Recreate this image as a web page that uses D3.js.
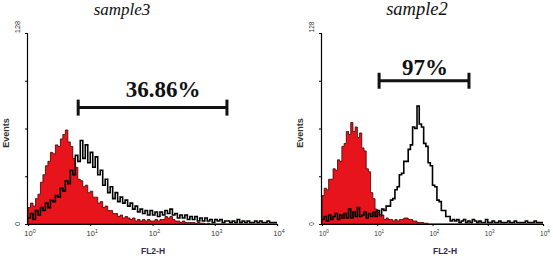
<!DOCTYPE html>
<html><head><meta charset="utf-8">
<script src="https://cdn.jsdelivr.net/npm/d3@7/dist/d3.min.js"></script>
<style>body{margin:0;background:#fff}svg{display:block}
.serif{font-family:'Liberation Serif','Times New Roman',serif}
.sans{font-family:'Liberation Sans',Arial,sans-serif}</style>
</head><body>
<svg id="c" width="553" height="261"></svg>
<script>
// ---- data ----
const titles = ["sample3", "sample2"];
const percents = ["36.86%", "97%"];
const xTicks = [1, 10, 100, 1000, 10000];
const yTicks = [0, 32, 64, 96, 128];
const yLabels = [0, 128];
const binsPerDecade = 25;
// gate markers [low, high] in FL2-H units, and their height in events
const gate3 = [6.4, 1570], gateY3 = 78;
const gate2 = [10.8, 457], gateY2 = 96;
// sample3: control (red filled) and sample (black line), 100 log bins over 4 decades
const ctrl3 = [11,14,12,17,20,28,33,39,42,48, 47,53,52,57,60,63,55,52,44,38,
  30,29,25,26,21,22,18,18,14,15, 11,12,9,9,7,7,5,6,4,5, 4,3,4,2,3,2,3,2,3,2,
  2,3,2,3,3,5,4,5,3,2, 2,1,2,1,1,1,1,0.5,1,0.5, 0.5,0,0.5,0,0,0,0,0,0,0,
  0,0,0,0,0,0,0,0,0,0, 0,0,0,0,0,0,0,0,0,0];
const samp3 = [4,7,3,9,6,11,9,14,11,16, 15,19,18,24,22,29,27,36,33,46,
  42,56,44,53,41,48,38,45,33,36, 26,30,21,25,17,21,15,18,14,16, 12,14,10,12,8,10,7,9,6,9,
  6,8,5,8,6,9,7,10,6,7, 4,6,4,6,3,5,3,5,2,4, 2,4,2,3,1,3,2,3,1,2,
  2,1,2,1,3,1,2,1,2,1, 1,2,1,2,1,1,2,1,1,1];
// sample2
const ctrl2 = [19,24,23,30,30,37,36,43,42,52, 54,62,60,68,62,65,58,61,51,49,
  37,35,21,17,10,8,5,6,3,4, 3,3,2,3,2,3,3,4,4,3, 3,2,2,1,1,1,0.5,0.5,0,0,
  0,0,0,0,0,0,0,0,0,0, 0,0,0,0,0,0,0,0,0,0, 0,0,0,0,0,0,0,0,0,0,
  0,0,0,0,0,0,0,0,0,0, 0,0,0,0,0,0,0,0,0,0];
const samp2 = [3,5,2,6,3,5,7,3,6,4, 7,4,10,4,8,5,11,5,6,8,
  4,7,5,8,5,9,6,10,9,12, 12,16,17,23,25,33,34,42,42,50, 53,65,64,79,67,65,54,52,41,39,
  26,25,16,15,9,9,5,5,2,3, 2,3,1,2,3,1,2,1,3,2, 1,2,1,1,3,1,1,2,1,1,
  2,1,1,1,2,1,1,2,1,1, 1,1,2,1,1,1,2,1,1,1];

const svg = d3.select("#c");
const panels = [
  {title: titles[0], pct: percents[0], ctrl: ctrl3, samp: samp3, gate: gate3, gateY: gateY3,
   xr: [28, 277], titleX: 122, titleSize: 17, pctX: 163, pctY: 97, pctSize: 23, labSize: 7.5, fl2X: 153},
  {title: titles[1], pct: percents[1], ctrl: ctrl2, samp: samp2, gate: gate2, gateY: gateY2,
   xr: [322, 543], titleX: 417, titleSize: 18.5, pctX: 425, pctY: 75, pctSize: 23, labSize: 6.5, fl2X: 445}
];

panels.forEach(p => {
  const x = d3.scaleLog().domain([1, 10000]).range(p.xr);
  const y = d3.scaleLinear().domain([0, 128]).range([224, 33]).clamp(true);
  const g = svg.append("g");
  const toPts = arr => {
    const pts = arr.map((v, i) => [Math.pow(10, i / binsPerDecade), v]);
    pts.push([10000, arr[arr.length - 1]]);
    return pts;
  };
  const area = d3.area().x(d => x(d[0])).y0(y(0)).y1(d => y(d[1])).curve(d3.curveStepAfter);
  const line = d3.line().x(d => x(d[0])).y(d => y(d[1])).curve(d3.curveStepAfter);
  g.append("path").datum(toPts(p.ctrl)).attr("d", area)
    .attr("fill", "#e8141b").attr("stroke", "#3a0000").attr("stroke-width", 0.8);
  g.append("path").datum(toPts(p.samp)).attr("d", line)
    .attr("fill", "none").attr("stroke", "#000").attr("stroke-width", 1.6);

  // axes
  const xa = g.append("g").attr("transform", "translate(0,224)")
    .call(d3.axisBottom(x).tickValues(xTicks).tickSize(2).tickFormat(""));
  xa.select(".domain").attr("stroke", "#000").attr("stroke-width", 1.2);
  xTicks.forEach(t => {
    const tx = g.append("text").attr("class", "sans").attr("x", x(t) + 2).attr("y", 236)
      .attr("text-anchor", "middle").attr("font-size", p.labSize).attr("fill", "#333");
    tx.append("tspan").text("10");
    tx.append("tspan").attr("dy", -3).attr("font-size", p.labSize * 0.7).text(Math.round(Math.log10(t)));
  });
  const ya = g.append("g").attr("transform", `translate(${p.xr[0] - 1},0)`)
    .call(d3.axisLeft(y).tickValues(yTicks).tickSize(2).tickFormat(""));
  ya.select(".domain").attr("stroke", "#000").attr("stroke-width", 1.2);
  yLabels.forEach(t => {
    const cy = t === 0 ? y(t) : y(t) - 6;
    g.append("text").attr("class", "sans").attr("transform", `translate(${p.xr[0] - 8},${cy}) rotate(-90)`)
      .attr("text-anchor", "middle").attr("font-size", p.labSize).attr("fill", "#333").text(t);
  });
  g.append("text").attr("class", "sans").attr("transform", `translate(${p.xr[0] - 19},133) rotate(-90)`)
    .attr("text-anchor", "middle").attr("font-size", 9).attr("font-weight", "bold")
    .attr("fill", "#333").text("Events");
  g.append("text").attr("class", "sans").attr("x", p.fl2X).attr("y", 254)
    .attr("text-anchor", "middle").attr("font-size", 8.5).attr("font-weight", "bold")
    .attr("fill", "#3a2848").text("FL2-H");

  // title and gate
  g.append("text").attr("class", "serif").attr("x", p.titleX).attr("y", 15).attr("text-anchor", "middle")
    .attr("font-style", "italic").attr("font-size", p.titleSize).attr("fill", "#111").text(p.title);
  g.append("text").attr("class", "serif").attr("x", p.pctX).attr("y", p.pctY).attr("text-anchor", "middle")
    .attr("font-weight", "bold").attr("font-size", p.pctSize).attr("fill", "#111").text(p.pct);
  const gy = y(p.gateY);
  const gg = g.append("g").attr("stroke", "#111").attr("stroke-width", 3);
  gg.append("line").attr("x1", x(p.gate[0])).attr("x2", x(p.gate[1])).attr("y1", gy).attr("y2", gy);
  p.gate.forEach(v => gg.append("line").attr("x1", x(v)).attr("x2", x(v)).attr("y1", gy - 8).attr("y2", gy + 8));
});
</script>
</body></html>
